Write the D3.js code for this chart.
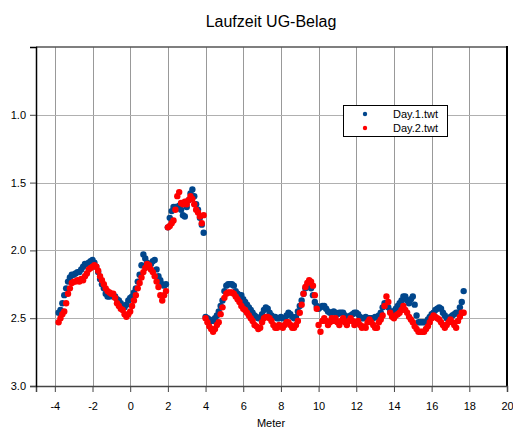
<!DOCTYPE html>
<html>
<head>
<meta charset="utf-8">
<script src="https://cdn.jsdelivr.net/npm/d3@7"></script>
<style>
  html, body { margin: 0; padding: 0; background: #fff; }
  svg { display: block; font-family: Arial, "Liberation Sans", sans-serif; }
</style>
</head>
<body>
<svg id="chart" width="513" height="430"></svg>
<script>
// Two-way travel time along the profile, sampled every 0.1 m.
const sampleStep = 0.1;

// Profile sections (start position in metres) and their readings.
const sectionStarts = [-3.8, 2.0, 4.0];

const day1Values = [
  // -3.8 .. 1.9
  [2.46,2.44,2.39,2.33,2.28,2.23,2.20,2.18,2.18,2.17,
   2.16,2.16,2.14,2.12,2.10,2.10,2.09,2.08,2.07,2.09,
   2.12,2.16,2.21,2.25,2.28,2.32,2.34,2.34,2.33,2.34,
   2.34,2.36,2.37,2.39,2.41,2.42,2.40,2.37,2.35,2.34,
   2.31,2.28,2.23,2.18,2.11,2.03,2.06,2.09,2.11,2.10,
   2.08,2.07,2.14,2.19,2.22,2.25,2.26,2.25],
  // 2.0 .. 3.9
  [1.83,1.76,1.71,1.68,1.68,1.68,1.67,1.70,1.74,1.75,
   1.68,1.63,1.58,1.55,1.60,1.66,1.70,1.76,1.81,1.87],
  // 4.0 .. 17.7
  [2.49,2.50,2.51,2.52,2.52,2.50,2.48,2.45,2.41,2.37,
   2.30,2.26,2.25,2.25,2.25,2.26,2.30,2.32,2.33,2.33,
   2.36,2.38,2.40,2.42,2.44,2.46,2.48,2.49,2.50,2.50,
   2.47,2.44,2.42,2.43,2.46,2.48,2.49,2.49,2.50,2.50,
   2.49,2.50,2.50,2.48,2.46,2.47,2.49,2.50,2.49,2.45,
   2.41,2.37,2.32,2.28,2.26,2.26,2.28,2.33,2.38,2.41,
   2.43,2.42,2.41,2.41,2.43,2.45,2.46,2.46,2.45,2.46,
   2.47,2.46,2.46,2.46,2.48,2.49,2.49,2.48,2.47,2.46,
   2.46,2.47,2.49,2.50,2.50,2.49,2.50,2.50,2.50,2.50,
   2.49,2.49,2.48,2.46,2.42,2.39,2.39,2.42,2.45,2.45,
   2.45,2.43,2.41,2.39,2.37,2.34,2.34,2.37,2.39,2.36,
   2.34,2.40,2.48,2.53,2.53,2.53,2.53,2.53,2.51,2.49,
   2.47,2.46,2.44,2.43,2.42,2.43,2.46,2.48,2.50,2.50,
   2.49,2.48,2.47,2.46,2.46,2.42,2.38,2.30]
];

const day2Values = [
  // -3.8 .. 1.9
  [2.53,2.50,2.47,2.45,2.39,2.32,2.28,2.24,2.23,2.23,
   2.22,2.23,2.21,2.22,2.19,2.17,2.14,2.13,2.12,2.11,
   2.12,2.15,2.19,2.22,2.25,2.28,2.30,2.31,2.32,2.32,
   2.35,2.39,2.41,2.43,2.44,2.47,2.49,2.47,2.45,2.41,
   2.37,2.33,2.28,2.24,2.20,2.16,2.13,2.10,2.11,2.14,
   2.16,2.19,2.23,2.27,2.33,2.37,2.33,2.30],
  // 2.0 .. 3.9
  [1.83,1.82,1.80,1.78,1.70,1.60,1.57,1.65,1.66,1.64,
   1.66,1.63,1.60,1.62,1.66,1.70,1.72,1.75,1.80,1.74],
  // 4.0 .. 17.7
  [2.50,2.53,2.56,2.58,2.60,2.58,2.55,2.53,2.47,2.42,
   2.35,2.32,2.31,2.31,2.31,2.32,2.34,2.36,2.38,2.41,
   2.43,2.44,2.46,2.48,2.50,2.52,2.55,2.56,2.58,2.57,
   2.53,2.50,2.49,2.49,2.50,2.52,2.55,2.57,2.57,2.55,
   2.56,2.57,2.55,2.53,2.53,2.55,2.57,2.57,2.55,2.52,
   2.46,2.40,2.32,2.27,2.24,2.22,2.23,2.26,2.33,2.43,
   2.55,2.60,2.52,2.50,2.52,2.55,2.53,2.50,2.52,2.50,
   2.53,2.55,2.52,2.50,2.53,2.55,2.52,2.50,2.52,2.55,
   2.53,2.52,2.55,2.57,2.56,2.57,2.53,2.51,2.53,2.55,
   2.57,2.57,2.53,2.51,2.48,2.41,2.34,2.38,2.46,2.49,
   2.50,2.48,2.47,2.46,2.44,2.41,2.44,2.46,2.49,2.51,
   2.53,2.56,2.58,2.60,2.60,2.60,2.60,2.58,2.56,2.53,
   2.50,2.48,2.49,2.50,2.51,2.53,2.55,2.57,2.55,2.53,
   2.51,2.53,2.55,2.57,2.52,2.49,2.46,2.46]
];

const seriesNames = ["Day.1.twt", "Day.2.twt"];
const seriesColors = ["#00468C", "#FF0000"];
const xTicks = [-4, -2, 0, 2, 4, 6, 8, 10, 12, 14, 16, 18, 20];
const yTicks = [1.0, 1.5, 2.0, 2.5, 3.0];

const titleText = "Laufzeit UG-Belag";
const xAxisTitle = "Meter";

// Turn sectioned readings into {x, v} points.
function toPoints(sections) {
  const pts = [];
  sections.forEach((vals, s) => {
    vals.forEach((v, i) => {
      pts.push({ x: +(sectionStarts[s] + i * sampleStep).toFixed(2), v });
    });
  });
  return pts;
}
const series = [toPoints(day1Values), toPoints(day2Values)];

const svg = d3.select("#chart");
const plotLeft = 36, plotRight = 507, plotTop = 47, plotBottom = 386;

const x = d3.scaleLinear().domain([-5, 20]).range([plotLeft, plotRight]);
const y = d3.scaleLinear().domain([0.5, 3.0]).range([plotTop, plotBottom]);

// Title
svg.append("text")
  .attr("x", 271).attr("y", 27)
  .attr("text-anchor", "middle")
  .attr("font-size", 16)
  .attr("fill", "#000")
  .text(titleText);

// Grid
const grid = svg.append("g");
grid.selectAll("line.vx")
  .data(xTicks.filter(t => t < 20))
  .join("line")
  .attr("x1", d => Math.round(x(d)) + 0.5).attr("x2", d => Math.round(x(d)) + 0.5)
  .attr("y1", plotTop).attr("y2", plotBottom)
  .attr("stroke", "#999").attr("stroke-width", 1);
grid.selectAll("line.hy")
  .data(yTicks.filter(t => t < 3.0))
  .join("line")
  .attr("x1", plotLeft).attr("x2", plotRight)
  .attr("y1", d => Math.round(y(d)) + 0.5).attr("y2", d => Math.round(y(d)) + 0.5)
  .attr("stroke", "#b0b0b0").attr("stroke-width", 1);

// Frame: top border grey, right border black
svg.append("line")
  .attr("x1", plotLeft).attr("x2", plotRight).attr("y1", plotTop).attr("y2", plotTop)
  .attr("stroke", "#555").attr("stroke-width", 1.5);
svg.append("line")
  .attr("x1", plotRight).attr("x2", plotRight).attr("y1", plotTop - 1).attr("y2", plotBottom + 1)
  .attr("stroke", "#000").attr("stroke-width", 2);

// Axes (plain hyphen-minus in tick labels)
const xAxis = svg.append("g")
  .attr("transform", `translate(0,${plotBottom})`)
  .call(d3.axisBottom(x).tickValues(xTicks).tickFormat(d => String(d)).tickSize(6).tickPadding(10));
xAxis.select(".domain").attr("stroke", "#444").attr("stroke-width", 1.5);
xAxis.selectAll(".tick line").attr("stroke", "#444");
xAxis.selectAll(".tick text")
  .attr("font-size", 11).attr("fill", "#000")
  .style("font-family", "Arial, 'Liberation Sans', sans-serif");

const yAxis = svg.append("g")
  .attr("transform", `translate(${plotLeft},0)`)
  .call(d3.axisLeft(y).tickValues(yTicks).tickFormat(d => d.toFixed(1)).tickSize(6).tickPadding(4));
yAxis.select(".domain").attr("stroke", "#000").attr("stroke-width", 1.5);
yAxis.selectAll(".tick line").attr("stroke", "#444");
yAxis.selectAll(".tick text")
  .attr("font-size", 11).attr("fill", "#000")
  .style("font-family", "Arial, 'Liberation Sans', sans-serif");

// Axis title
svg.append("text")
  .attr("x", 271).attr("y", 427)
  .attr("text-anchor", "middle")
  .attr("font-size", 11)
  .attr("fill", "#000")
  .text(xAxisTitle);

// Points: Day 1 first, Day 2 drawn on top
series.forEach((pts, k) => {
  svg.append("g")
    .selectAll("circle")
    .data(pts)
    .join("circle")
    .attr("cx", d => x(d.x))
    .attr("cy", d => y(d.v))
    .attr("r", 3.2)
    .attr("fill", seriesColors[k]);
});

// Legend
const legend = svg.append("g");
legend.append("rect")
  .attr("x", 343.5).attr("y", 105.5).attr("width", 104).attr("height", 31)
  .attr("fill", "#fff").attr("stroke", "#000").attr("stroke-width", 1);
seriesNames.forEach((name, k) => {
  legend.append("circle")
    .attr("cx", 365).attr("cy", 114 + k * 14).attr("r", 2.2)
    .attr("fill", seriesColors[k]);
  legend.append("text")
    .attr("x", 393).attr("y", 118 + k * 13.5)
    .attr("font-size", 11).attr("fill", "#000")
    .text(name);
});
</script>
</body>
</html>
